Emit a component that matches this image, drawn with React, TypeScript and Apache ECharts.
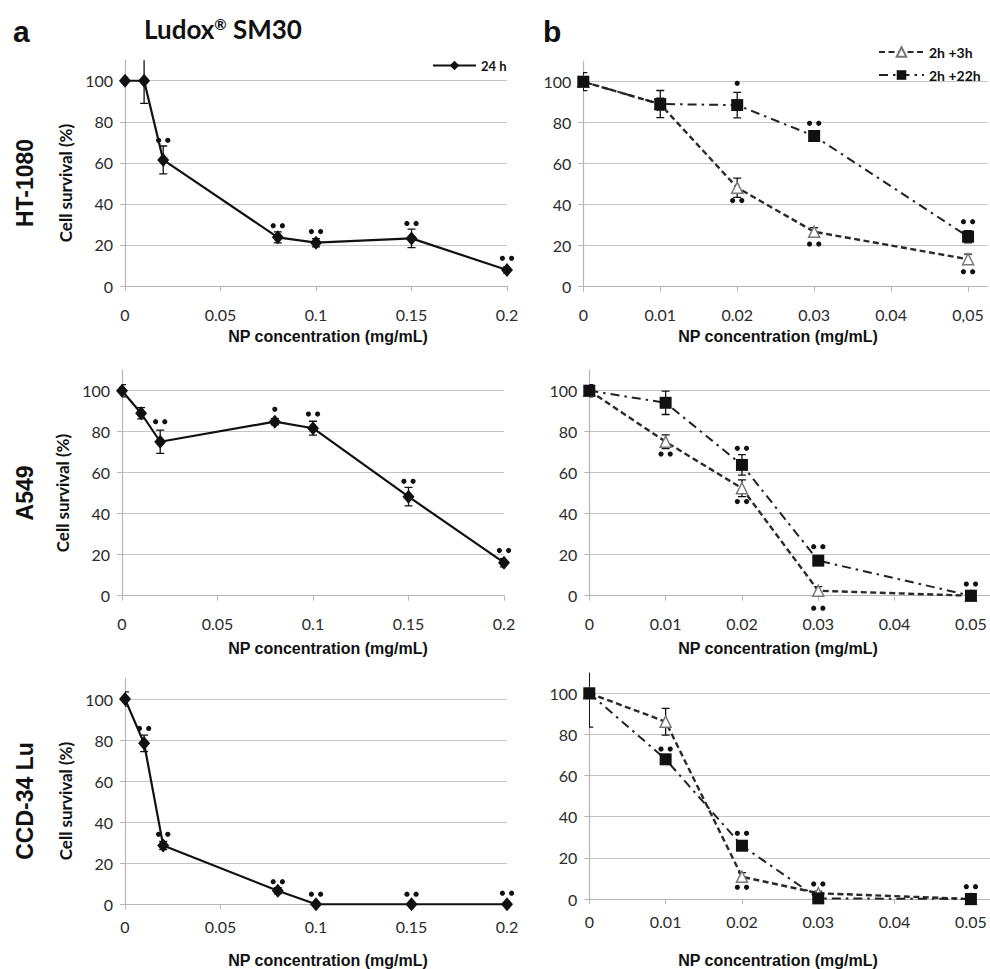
import React, { useEffect, useRef } from "react";
import * as echarts from "echarts";

// ---------- data ----------
const conc24 = [0, 0.01, 0.02, 0.08, 0.1, 0.15, 0.2];
const concB = [0, 0.01, 0.02, 0.03, 0.05];

const ht1080_24h = [100, 100, 61.4, 23.7, 21.1, 23.2, 7.8];
const ht1080_24h_err = [0, 11, 6.8, 2.7, 2, 4.5, 1.5];
const ht1080_24h_sig = [0, 0, 2, 2, 2, 2, 2];
const ht1080_24h_sigY = [0, 0, 71, 29.4, 26.5, 30.5, 13.5];

const a549_24h = [100, 89, 75.1, 84.9, 81.7, 48.3, 16.1];
const a549_24h_err = [3, 2.7, 5.7, 1.5, 3.4, 4.5, 2];
const a549_24h_sig = [0, 0, 2, 1, 2, 2, 2];
const a549_24h_sigY = [0, 0, 84.9, 90.9, 88.6, 55.8, 22];

const ccd_24h = [100, 78.4, 28.6, 6.6, 0, 0, 0];
const ccd_24h_err = [3.5, 4, 2, 1.5, 0, 0, 0];
const ccd_24h_sig = [0, 2, 2, 2, 2, 2, 2];
const ccd_24h_sigY = [0, 85.7, 34.1, 11, 4.9, 4.9, 5.4];

const ht1080_3h = [100, 89, 48.3, 26.8, 13.4];
const ht1080_3h_err = [2, 3, 4.7, 2, 2.5];
const ht1080_3h_sig = [0, 0, 2, 2, 2];
const ht1080_3h_sigY = [0, 0, 42, 20.8, 7.3];
const ht1080_22h = [100, 89.1, 88.6, 73.5, 24.4];
const ht1080_22h_err = [4.4, 6.6, 6.2, 1.5, 3];
const ht1080_22h_sig = [0, 0, 1, 2, 2];
const ht1080_22h_sigY = [0, 0, 99.2, 79.7, 31.7];

const a549_3h = [100, 75.1, 52.4, 2.4, 0];
const a549_3h_err = [2, 3.4, 4.1, 2, 0.5];
const a549_3h_sig = [0, 2, 2, 2, 0];
const a549_3h_sigY = [0, 69.1, 45.9, -6.1, 0];
const a549_22h = [100, 94.1, 63.8, 17.1, 0];
const a549_22h_err = [3, 5.7, 5, 1.5, 0.5];
const a549_22h_sig = [0, 0, 2, 2, 2];
const a549_22h_sigY = [0, 0, 71.9, 23.9, 5.7];

const ccd_3h = [100, 86.2, 10.8, 2.8, 0];
const ccd_3h_err = [16.5, 6.5, 2, 1, 0.5];
const ccd_3h_sig = [0, 0, 2, 0, 0];
const ccd_3h_sigY = [0, 0, 5.7, 0, 0];
const ccd_22h = [100, 67.9, 25.9, 0.3, 0];
const ccd_22h_err = [2, 2, 2, 0.5, 0.5];
const ccd_22h_sig = [0, 2, 2, 2, 2];
const ccd_22h_sigY = [0, 72.9, 31.9, 7.3, 6];

const yTicks = [0, 20, 40, 60, 80, 100];
const cellLines = ["HT-1080", "A549", "CCD-34 Lu"];
const seriesNames = ["24 h", "2h +3h", "2h +22h"];

// ---------- styling ----------
const LATO = "Lato, 'Open Sans', sans-serif";
const ARIAL = "'Liberation Sans', Arial, sans-serif";
const GRID_COLOR = "#c4c4c4";

const grids = [
  { left: 125, top: 60.2, width: 382, height: 225.8 },
  { left: 122, top: 370.2, width: 382, height: 225.5 },
  { left: 125, top: 678.5, width: 382, height: 225.8 },
  { left: 583.3, top: 61.2, width: 404, height: 225.5 },
  { left: 589.3, top: 370.2, width: 403.2, height: 225.5 },
  { left: 589.3, top: 672.7, width: 403.2, height: 226.3 },
];

function errSeries(idx: number, xs: number[], ys: number[], es: number[]) {
  return {
    type: "custom",
    xAxisIndex: idx,
    yAxisIndex: idx,
    clip: true,
    silent: true,
    z: 2,
    data: xs.map((x, k) => [x, ys[k], es[k]]),
    encode: { x: 0, y: 1 },
    renderItem: (params: any, api: any) => {
      const x = api.value(0);
      const y = api.value(1);
      const e = api.value(2);
      if (!e) return null;
      const t = api.coord([x, y + e]);
      const b = api.coord([x, y - e]);
      const hw = 4;
      const st = { stroke: "#111", lineWidth: 1.3 };
      return {
        type: "group",
        children: [
          { type: "line", shape: { x1: t[0], y1: t[1], x2: b[0], y2: b[1] }, style: st },
          { type: "line", shape: { x1: t[0] - hw, y1: t[1], x2: t[0] + hw, y2: t[1] }, style: st },
          { type: "line", shape: { x1: b[0] - hw, y1: b[1], x2: b[0] + hw, y2: b[1] }, style: st },
        ],
      };
    },
  };
}

function sigSeries(idx: number, xs: number[], groups: { n: number[]; y: number[] }[]) {
  const data: number[][] = [];
  groups.forEach((g) => {
    xs.forEach((x, k) => {
      if (g.n[k] > 0) data.push([x, g.y[k], g.n[k]]);
    });
  });
  return {
    type: "custom",
    xAxisIndex: idx,
    yAxisIndex: idx,
    clip: false,
    silent: true,
    z: 5,
    data,
    encode: { x: 0, y: 1 },
    renderItem: (params: any, api: any) => {
      const p = api.coord([api.value(0), api.value(1)]);
      const n = api.value(2);
      const offs = n === 1 ? [0] : [-4.6, 4.6];
      return {
        type: "group",
        children: offs.map((o) => ({
          type: "circle",
          shape: { cx: p[0] + o, cy: p[1], r: 2.6 },
          style: { fill: "#111" },
        })),
      };
    },
  };
}

function lineSeries24(idx: number, ys: number[]) {
  return {
    name: seriesNames[0],
    type: "line",
    xAxisIndex: idx,
    yAxisIndex: idx,
    data: conc24.map((x, k) => [x, ys[k]]),
    symbol: "diamond",
    symbolSize: [12, 14],
    lineStyle: { color: "#111", width: 2.2 },
    itemStyle: { color: "#111" },
    z: 3,
    silent: true,
  };
}

function lineSeries3h(idx: number, ys: number[]) {
  return {
    name: seriesNames[1],
    type: "line",
    xAxisIndex: idx,
    yAxisIndex: idx,
    data: concB.map((x, k) => [x, ys[k]]),
    symbol: "triangle",
    symbolSize: 11,
    lineStyle: { color: "#2a2a2a", width: 2.4, type: [6, 3.5] },
    itemStyle: { color: "#ffffff", borderColor: "#777", borderWidth: 1.5 },
    z: 3,
    silent: true,
  };
}

function lineSeries22h(idx: number, ys: number[]) {
  return {
    name: seriesNames[2],
    type: "line",
    xAxisIndex: idx,
    yAxisIndex: idx,
    data: concB.map((x, k) => [x, ys[k]]),
    symbol: "rect",
    symbolSize: 12,
    lineStyle: { color: "#222", width: 2, type: [9, 5, 2.5, 5] },
    itemStyle: { color: "#111" },
    z: 4,
    silent: true,
  };
}

function fmtX(v: number) {
  return String(+v.toFixed(4));
}

function buildOption() {
  const xAxes = grids.map((g, i) => {
    const left = i < 3;
    return {
      type: "value",
      gridIndex: i,
      min: 0,
      max: left ? 0.2 : 0.0525,
      interval: left ? 0.05 : 0.01,
      axisLine: { show: true, lineStyle: { color: "#b5b5b5", width: 1.2 } },
      axisTick: { show: true, length: 5, lineStyle: { color: "#b5b5b5" } },
      splitLine: { show: false },
      axisLabel: {
        showMaxLabel: left ? true : false,
        margin: i === 2 || i === 5 ? 14 : 20,
        color: "#2b2b2b",
        fontFamily: LATO,
        fontSize: 16,
        formatter: (v: number) => {
          if (!left && Math.abs(v * 100 - Math.round(v * 100)) > 1e-6) return "";
          if (i === 3 && Math.abs(v - 0.05) < 1e-9) return "0,05";
          return fmtX(v);
        },
      },
    };
  });
  const yAxes = grids.map((g, i) => ({
    type: "value",
    gridIndex: i,
    min: 0,
    max: 110,
    interval: 20,
    axisLine: { show: true, lineStyle: { color: "#b5b5b5", width: 1.2 } },
    axisTick: { show: true, length: 5, lineStyle: { color: "#b5b5b5" } },
    splitLine: { show: true, showMaxLine: false, lineStyle: { color: GRID_COLOR, width: 1.2 } },
    axisLabel: {
      showMaxLabel: false,
      margin: 12,
      color: "#2b2b2b",
      fontFamily: LATO,
      fontSize: 16,
      formatter: (v: number) => (yTicks.indexOf(v) >= 0 ? String(v) : ""),
    },
  }));

  const series: any[] = [
    // HT-1080 24 h
    errSeries(0, conc24, ht1080_24h, ht1080_24h_err),
    lineSeries24(0, ht1080_24h),
    sigSeries(0, conc24, [{ n: ht1080_24h_sig, y: ht1080_24h_sigY }]),
    // A549 24 h
    errSeries(1, conc24, a549_24h, a549_24h_err),
    lineSeries24(1, a549_24h),
    sigSeries(1, conc24, [{ n: a549_24h_sig, y: a549_24h_sigY }]),
    // CCD 24 h
    errSeries(2, conc24, ccd_24h, ccd_24h_err),
    lineSeries24(2, ccd_24h),
    sigSeries(2, conc24, [{ n: ccd_24h_sig, y: ccd_24h_sigY }]),
    // HT-1080 b
    errSeries(3, concB, ht1080_3h, ht1080_3h_err),
    errSeries(3, concB, ht1080_22h, ht1080_22h_err),
    lineSeries3h(3, ht1080_3h),
    lineSeries22h(3, ht1080_22h),
    sigSeries(3, concB, [
      { n: ht1080_3h_sig, y: ht1080_3h_sigY },
      { n: ht1080_22h_sig, y: ht1080_22h_sigY },
    ]),
    // A549 b
    errSeries(4, concB, a549_3h, a549_3h_err),
    errSeries(4, concB, a549_22h, a549_22h_err),
    lineSeries3h(4, a549_3h),
    lineSeries22h(4, a549_22h),
    sigSeries(4, concB, [
      { n: a549_3h_sig, y: a549_3h_sigY },
      { n: a549_22h_sig, y: a549_22h_sigY },
    ]),
    // CCD b
    errSeries(5, concB, ccd_3h, ccd_3h_err),
    errSeries(5, concB, ccd_22h, ccd_22h_err),
    lineSeries3h(5, ccd_3h),
    lineSeries22h(5, ccd_22h),
    sigSeries(5, concB, [
      { n: ccd_3h_sig, y: ccd_3h_sigY },
      { n: ccd_22h_sig, y: ccd_22h_sigY },
    ]),
  ];

  const rowCenters = [183, 493, 801];
  const yTitleX = [65, 62, 65];
  const xTitleY = [336, 648, 960];
  const graphic: any[] = [
    { type: "text", x: 13, y: 31.5, style: { text: "a", font: `bold 30px ${ARIAL}`, fill: "#111", textVerticalAlign: "middle" } },
    { type: "text", x: 543, y: 31.5, style: { text: "b", font: `bold 30px ${ARIAL}`, fill: "#111", textVerticalAlign: "middle" } },
    {
      type: "text",
      x: 144,
      y: 29,
      style: {
        text: "{m|Ludox}{s|®}{m| SM30}",
        textVerticalAlign: "middle",
        rich: {
          m: { fontFamily: LATO, fontWeight: "bold", fontSize: 26, fill: "#111" },
          s: { fontFamily: LATO, fontWeight: "bold", fontSize: 15, fill: "#111", verticalAlign: "top", padding: [0, 0, 10, 0] },
        },
      },
    },
  ];
  cellLines.forEach((name, r) => {
    graphic.push({
      type: "text",
      x: 25,
      y: rowCenters[r],
      rotation: Math.PI / 2,
      style: { text: name, font: `bold 23px ${ARIAL}`, fill: "#111", textAlign: "center", textVerticalAlign: "middle" },
    });
    graphic.push({
      type: "text",
      x: yTitleX[r],
      y: rowCenters[r],
      rotation: Math.PI / 2,
      style: { text: "Cell survival (%)", font: `bold 17px ${LATO}`, fill: "#111", textAlign: "center", textVerticalAlign: "middle" },
    });
    graphic.push({
      type: "text",
      x: 328,
      y: xTitleY[r],
      style: { text: "NP concentration (mg/mL)", font: `bold 16px ${ARIAL}`, fill: "#111", textAlign: "center", textVerticalAlign: "middle" },
    });
    graphic.push({
      type: "text",
      x: 778,
      y: xTitleY[r],
      style: { text: "NP concentration (mg/mL)", font: `bold 16px ${ARIAL}`, fill: "#111", textAlign: "center", textVerticalAlign: "middle" },
    });
  });

  return {
    animation: false,
    backgroundColor: "#ffffff",
    grid: grids,
    xAxis: xAxes,
    yAxis: yAxes,
    legend: [
      {
        data: [seriesNames[0]],
        left: 427,
        top: 54,
        itemWidth: 43,
        itemHeight: 12,
        selectedMode: false,
        textStyle: { fontFamily: LATO, fontWeight: "bold", fontSize: 13, color: "#111" },
      },
      {
        data: [seriesNames[1], seriesNames[2]],
        orient: "vertical",
        left: 873,
        top: 40,
        itemGap: 9,
        itemWidth: 45,
        itemHeight: 12,
        selectedMode: false,
        textStyle: { fontFamily: LATO, fontWeight: "bold", fontSize: 14, color: "#111" },
      },
    ],
    graphic,
    series,
  };
}

export default function App() {
  const ref = useRef<HTMLDivElement>(null);
  useEffect(() => {
    if (!ref.current) return;
    const chart = echarts.init(ref.current, undefined, { renderer: "svg" });
    chart.setOption(buildOption() as any);
    return () => chart.dispose();
  }, []);
  return (
    <div
      ref={ref}
      style={{ position: "fixed", left: 0, top: 0, width: 990, height: 969, background: "#fff" }}
    />
  );
}
